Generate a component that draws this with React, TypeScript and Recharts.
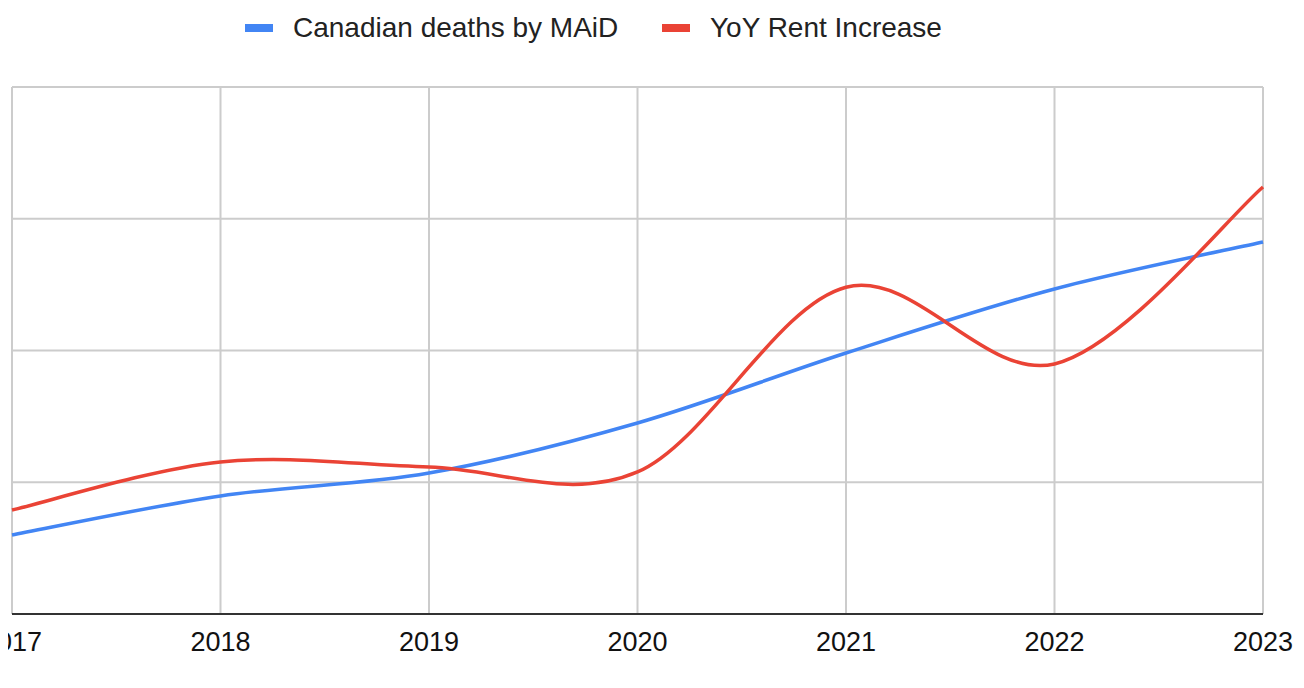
import React from "react";
import { LineChart, Line, XAxis, YAxis, CartesianGrid } from "recharts";

const years = ["2017", "2018", "2019", "2020", "2021", "2022", "2023"];
const maidDeaths = [0.6, 0.896, 1.07, 1.45, 1.981, 2.467, 2.824];
const rentIncrease = [0.789, 1.154, 1.116, 1.078, 2.48, 1.898, 3.241];
const yTicks = [0, 1, 2, 3, 4];

const seriesNames = ["Canadian deaths by MAiD", "YoY Rent Increase"];
const seriesColors = ["#4285F4", "#EA4335"];

const data = years.map((y, i) => ({ year: y, maid: maidDeaths[i], rent: rentIncrease[i] }));

const FONT = "'Liberation Sans', Arial, Helvetica, sans-serif";

// Catmull-Rom style smoothing (like Google Charts "function" curves)
const smoothCurve = (context: any) => {
  let pts: number[][] = [];
  const k = 1 / 6;
  return {
    areaStart() {},
    areaEnd() {},
    lineStart() {
      pts = [];
    },
    point(x: number, y: number) {
      pts.push([+x, +y]);
    },
    lineEnd() {
      const n = pts.length;
      if (n === 0) return;
      context.moveTo(pts[0][0], pts[0][1]);
      if (n === 1) return;
      if (n === 2) {
        context.lineTo(pts[1][0], pts[1][1]);
        return;
      }
      for (let i = 0; i < n - 1; i++) {
        const p0 = pts[i - 1] || pts[i];
        const p1 = pts[i];
        const p2 = pts[i + 1];
        const p3 = pts[i + 2] || pts[i + 1];
        context.bezierCurveTo(
          p1[0] + k * (p2[0] - p0[0]),
          p1[1] + k * (p2[1] - p0[1]),
          p2[0] - k * (p3[0] - p1[0]),
          p2[1] - k * (p3[1] - p1[1]),
          p2[0],
          p2[1]
        );
      }
    },
  };
};

export default function App() {
  return (
    <div style={{ position: "relative", margin: "-8px 0 0 -8px", width: 1304, height: 688, background: "#fff", overflow: "hidden" }}>
      <div style={{ position: "absolute", top: 0, left: 0, width: 1304, height: 60, fontFamily: FONT, fontSize: 28, color: "#222" }}>
        <div style={{ position: "absolute", left: 245, top: 24, width: 28, height: 8, background: seriesColors[0] }} />
        <div style={{ position: "absolute", left: 293, top: 14, lineHeight: "28px", whiteSpace: "nowrap" }}>{seriesNames[0]}</div>
        <div style={{ position: "absolute", left: 662, top: 24, width: 28, height: 8, background: seriesColors[1] }} />
        <div style={{ position: "absolute", left: 710, top: 14, lineHeight: "28px", whiteSpace: "nowrap" }}>{seriesNames[1]}</div>
      </div>
      <LineChart width={1304} height={688} data={data} margin={{ top: 87, right: 41, left: 12, bottom: 0 }}>
        <CartesianGrid stroke="#cccccc" strokeWidth={2} vertical={true} horizontal={true} />
        <XAxis
          dataKey="year"
          interval={0}
          height={74}
          tickLine={false}
          tickSize={0}
          tickMargin={18}
          axisLine={{ stroke: "#333333", strokeWidth: 2 }}
          tick={{ fill: "#111111", fontSize: 27, fontFamily: FONT }}
        />
        <YAxis hide domain={[0, 4]} ticks={yTicks} />
        <Line type={smoothCurve as any} dataKey="maid" name={seriesNames[0]} stroke={seriesColors[0]} strokeWidth={3.5} dot={false} isAnimationActive={false} />
        <Line type={smoothCurve as any} dataKey="rent" name={seriesNames[1]} stroke={seriesColors[1]} strokeWidth={3.5} dot={false} isAnimationActive={false} />
      </LineChart>
    </div>
  );
}
